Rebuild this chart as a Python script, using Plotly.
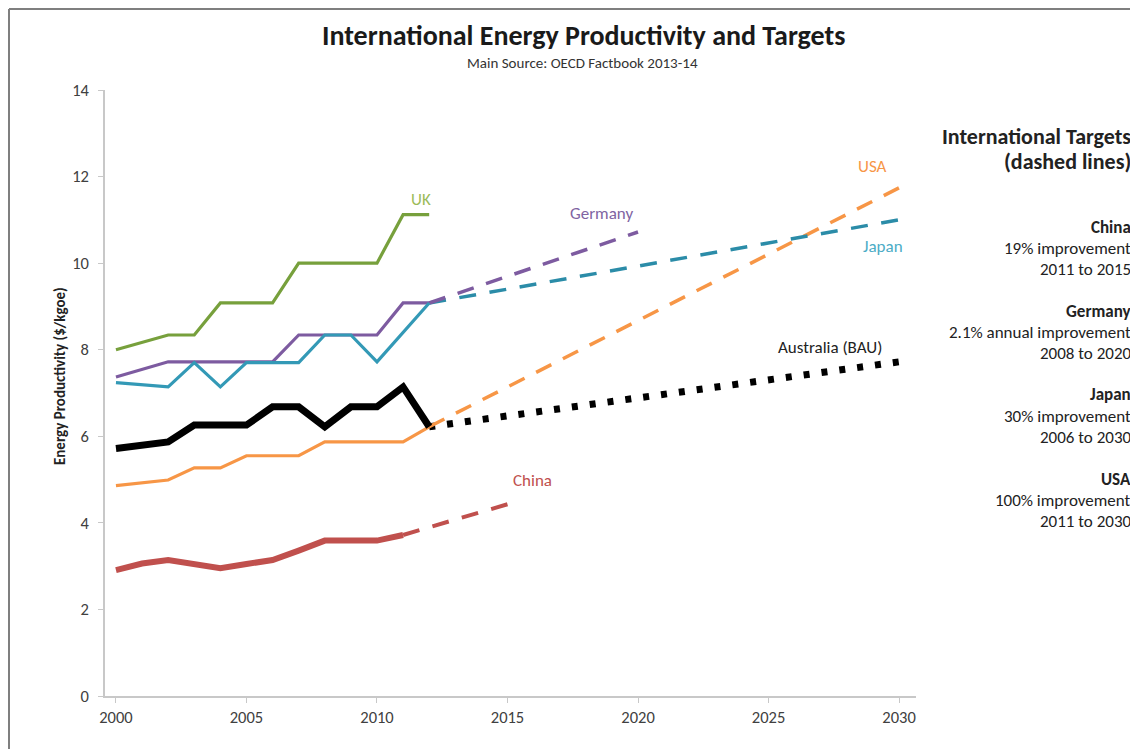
import plotly.graph_objects as go

# ---------------- data ----------------
years = [2000, 2001, 2002, 2003, 2004, 2005, 2006, 2007, 2008, 2009, 2010, 2011, 2012]
uk = [8.00, 8.17, 8.34, 8.34, 9.08, 9.08, 9.08, 10.00, 10.00, 10.00, 10.00, 11.12, 11.12]
germany = [7.37, 7.55, 7.72, 7.72, 7.72, 7.72, 7.72, 8.34, 8.34, 8.34, 8.34, 9.08, 9.08]
japan = [7.24, 7.19, 7.14, 7.70, 7.14, 7.70, 7.70, 7.70, 8.34, 8.34, 7.72, 8.40, 9.08]
usa = [4.86, 4.93, 4.99, 5.27, 5.27, 5.55, 5.55, 5.55, 5.87, 5.87, 5.87, 5.87, 6.22]
australia = [5.72, 5.80, 5.87, 6.26, 6.26, 6.26, 6.68, 6.68, 6.22, 6.68, 6.68, 7.14, 6.22]
china_years = [2000, 2001, 2002, 2003, 2004, 2005, 2006, 2007, 2008, 2009, 2010, 2011]
china = [2.91, 3.06, 3.14, 3.05, 2.95, 3.05, 3.14, 3.36, 3.59, 3.59, 3.59, 3.72]

# targets / projections (start, end)
china_t_years = [2011, 2015]
china_t = [3.72, 4.43]
germany_t_years = [2012, 2020]
germany_t = [9.08, 10.72]
japan_t_years = [2012, 2030]
japan_t = [9.08, 11.00]
usa_t_years = [2012, 2030]
usa_t = [6.22, 11.74]
aus_bau_years = [2012, 2030]
aus_bau = [6.22, 7.72]

x_ticks = [2000, 2005, 2010, 2015, 2020, 2025, 2030]
y_ticks = [0, 2, 4, 6, 8, 10, 12, 14]

# ---------------- style ----------------
FONT = "Carlito, Calibri, Lato, sans-serif"
C_UK = "#77A03C"
C_DE = "#7D5BA0"
C_JP = "#3399B6"
C_JP_D = "#2B8CA8"
C_US = "#F79646"
C_AU = "#000000"
C_CN = "#C0504D"
DASH = "17px,13px"
DASH_B = "17px,13.6px"

fig = go.Figure()

def line(x, y, color, width, dash="solid"):
    fig.add_trace(go.Scatter(x=x, y=y, mode="lines",
                             line=dict(color=color, width=width, dash=dash),
                             showlegend=False, hoverinfo="skip"))

# projections first (underneath)
line(aus_bau_years, aus_bau, C_AU, 7, "6px,12px")
line(usa_t_years, usa_t, C_US, 3.5, DASH)
line(japan_t_years, japan_t, C_JP_D, 3.5, DASH_B)
line(germany_t_years, germany_t, C_DE, 3.5, DASH)
line(china_t_years, china_t, C_CN, 4, DASH_B)

# historical
line(years, uk, C_UK, 3.2)
line(years, germany, C_DE, 3.2)
line(years, japan, C_JP, 3.2)
line(years, usa, C_US, 3.2)
line(years, australia, C_AU, 7)
line(china_years, china, C_CN, 6)

annotations = []

def lab(x, y, text, color, size=17):
    annotations.append(dict(x=x, y=y, xref="x", yref="y", text=text, showarrow=False,
                            font=dict(family=FONT, size=size, color=color),
                            xanchor="center", yanchor="middle"))

lab(2011.7, 11.48, "UK", "#9BBB59")
lab(2018.6, 11.15, "Germany", "#8064A2")
lab(2029.0, 12.24, "USA", "#F79646")
lab(2029.4, 10.39, "Japan", "#4BACC6")
lab(2027.36, 8.06, "Australia (BAU)", "#222222")
lab(2015.95, 4.97, "China", "#C0504D")

# page offset (body margin) and figure geometry in screen pixels
OFF = 8
FW, FH = 1138 - OFF, 749 - OFF
L, R, T, B = 105, 916, 90, 696   # plot area in screen pixels
W, H = R - L, B - T

def px(xp):
    return (xp - L) / W

def py(yp):
    return (B - yp) / H

# title & subtitle
annotations.append(dict(x=px(583), y=py(35.5), xref="paper", yref="paper",
                        text="<b>International Energy Productivity and Targets</b>",
                        showarrow=False, font=dict(family=FONT, size=28, color="#1a1a1a"),
                        xanchor="center", yanchor="middle"))
annotations.append(dict(x=px(582), y=py(52.5), xref="paper", yref="paper",
                        text="Main Source: OECD Factbook 2013-14",
                        showarrow=False, font=dict(family=FONT, size=15, color="#333333"),
                        xanchor="center", yanchor="top"))

# y-axis title
annotations.append(dict(x=px(60), y=py(376), xref="paper", yref="paper",
                        text="<b>Energy Productivity ($/kgoe)</b>", textangle=-90,
                        showarrow=False, font=dict(family=FONT, size=15, color="#222222"),
                        xanchor="center", yanchor="middle"))

# right-side notes
def note(yp, text, size=17, bold=False):
    t = f"<b>{text}</b>" if bold else text
    annotations.append(dict(x=px(1133), y=py(yp), xref="paper", yref="paper",
                            text=t, showarrow=False,
                            font=dict(family=FONT, size=size, color="#222222"),
                            xanchor="right", yanchor="middle"))

note(136, "International Targets", 22, True)
note(161, "(dashed lines)", 22, True)
note(227, "China", 17, True)
note(248, "19% improvement")
note(269, "2011 to 2015")
note(311, "Germany", 17, True)
note(332, "2.1% annual improvement")
note(353, "2008 to 2020")
note(395, "Japan", 17, True)
note(416, "30% improvement")
note(437, "2006 to 2030")
note(479, "USA", 17, True)
note(500, "100% improvement")
note(521, "2011 to 2030")

shapes = [
    dict(type="line", xref="paper", yref="paper", x0=px(9), x1=px(9), y0=py(9), y1=py(770),
         line=dict(color="#7f7f7f", width=2)),
    dict(type="line", xref="paper", yref="paper", x0=px(9), x1=px(1150), y0=py(9), y1=py(9),
         line=dict(color="#7f7f7f", width=2)),
]

fig.update_layout(
    width=FW, height=FH,
    margin=dict(l=L - OFF, r=1138 - R, t=T - OFF, b=749 - B),
    paper_bgcolor="white", plot_bgcolor="white",
    font=dict(family=FONT, size=16, color="#404040"),
    annotations=annotations, shapes=shapes,
    xaxis=dict(range=[1999.58, 2030.65], tickmode="array", tickvals=x_ticks,
               ticktext=[str(v) for v in x_ticks], showgrid=False, zeroline=False,
               showline=True, linecolor="#C8C8C8", linewidth=1.5,
               ticks="outside", ticklen=5, tickcolor="#C8C8C8",
               tickfont=dict(family=FONT, size=16.5, color="#404040")),
    yaxis=dict(range=[0, 14], tickmode="array", tickvals=y_ticks, showgrid=False,
               zeroline=False, showline=True, linecolor="#C8C8C8", linewidth=1.5,
               ticks="outside", ticklen=5, tickcolor="#C8C8C8", ticklabelstandoff=6,
               tickfont=dict(family=FONT, size=16.5, color="#404040")),
)

fig.write_html("out.html")
